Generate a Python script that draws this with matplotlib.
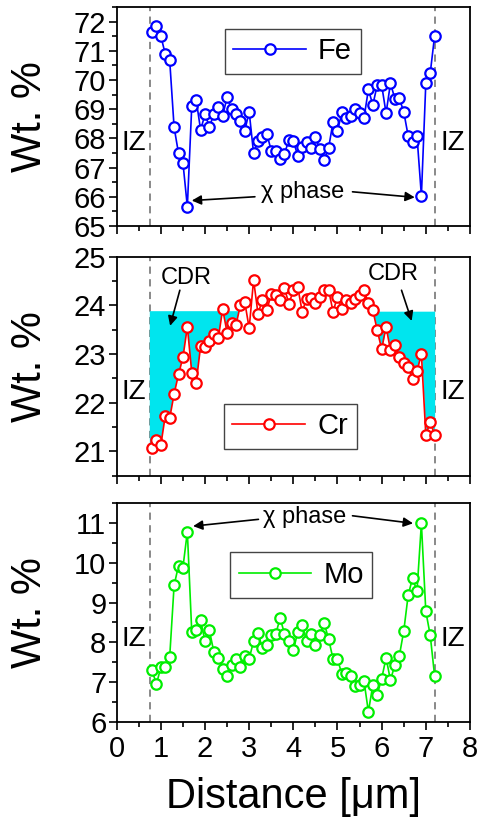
import numpy as np
import matplotlib
matplotlib.use("Agg")
import matplotlib.pyplot as plt
from matplotlib.ticker import MultipleLocator

plt.rcParams['font.family'] = ['Liberation Sans', 'DejaVu Sans']

# line scan data (Wt. %)
distance = [0.8, 0.9, 1.0, 1.1, 1.2, 1.3, 1.4, 1.5, 1.6, 1.7, 1.8, 1.9, 2.0,
            2.1, 2.2, 2.3, 2.4, 2.5, 2.6, 2.7, 2.8, 2.9, 3.0, 3.1, 3.2, 3.3,
            3.4, 3.5, 3.6, 3.7, 3.8, 3.9, 4.0, 4.1, 4.2, 4.3, 4.4, 4.5, 4.6,
            4.7, 4.8, 4.9, 5.0, 5.1, 5.2, 5.3, 5.4, 5.5, 5.6, 5.7, 5.8, 5.9,
            6.0, 6.1, 6.2, 6.3, 6.4, 6.5, 6.6, 6.7, 6.8, 6.9, 7.0, 7.1, 7.2]
fe = [71.65, 71.85, 71.50, 70.89, 70.68, 68.38, 67.49, 67.17, 65.66, 69.11,
      69.32, 68.29, 68.82, 68.40, 68.82, 69.06, 68.77, 69.41, 69.00, 68.82,
      68.61, 68.26, 68.91, 67.49, 67.92, 68.04, 68.15, 67.58, 67.58, 67.28,
      67.47, 67.95, 67.92, 67.40, 67.72, 67.87, 67.68, 68.04, 67.63, 67.26,
      67.68, 68.57, 68.26, 68.89, 68.69, 68.77, 69.00, 68.88, 68.69, 69.68,
      69.14, 69.83, 69.83, 68.86, 69.89, 69.35, 69.37, 68.91, 68.09, 67.89,
      68.09, 66.03, 69.89, 70.23, 71.52]
cr = [21.06, 21.23, 21.13, 21.73, 21.68, 22.18, 22.58, 22.93, 23.56, 22.62,
      22.41, 23.16, 23.14, 23.27, 23.42, 23.32, 23.92, 23.44, 23.63, 23.59,
      24.00, 24.07, 23.53, 24.52, 23.83, 24.11, 23.90, 24.23, 24.21, 24.11,
      24.35, 24.03, 24.31, 24.38, 23.87, 24.13, 24.16, 24.04, 24.18, 24.31,
      24.31, 23.87, 24.18, 23.92, 24.11, 24.05, 24.13, 24.21, 24.31, 24.05,
      23.90, 23.49, 23.10, 23.56, 23.08, 23.18, 22.94, 22.82, 22.74, 22.48,
      22.65, 23.00, 21.34, 21.60, 21.34]
mo = [7.30, 6.95, 7.38, 7.38, 7.63, 9.43, 9.93, 9.88, 10.78, 8.26,
      8.30, 8.55, 8.03, 8.30, 7.76, 7.61, 7.33, 7.16, 7.43, 7.59,
      7.38, 7.66, 7.59, 8.03, 8.23, 7.86, 7.94, 8.18, 8.20, 8.61,
      8.22, 8.03, 7.80, 8.26, 8.44, 8.03, 8.22, 7.93, 8.18, 8.48,
      8.08, 7.58, 7.58, 7.20, 7.24, 7.16, 6.91, 6.94, 7.03, 6.26,
      6.93, 6.69, 7.09, 7.61, 7.05, 7.44, 7.66, 8.28, 9.18, 9.62,
      9.28, 10.99, 8.78, 8.18, 7.15]

iz_left = 0.75
iz_right = 7.2
cdr_top = 23.88
cdr_left_end = 2.8
cdr_right_start = 5.8

d = np.array(distance)

fig = plt.figure(figsize=(4.8, 8.19), dpi=100)
left, width, height = 0.2431, 0.736, 0.2674
ax_fe = fig.add_axes([left, 0.7241, width, height])
ax_cr = fig.add_axes([left, 0.4192, width, height])
ax_mo = fig.add_axes([left, 0.1184, width, height])

panels = [(ax_fe, fe, 'blue', 'Fe', (65, 72.5)),
          (ax_cr, cr, 'red', 'Cr', (20.5, 25)),
          (ax_mo, mo, '#00ee00', 'Mo', (6, 11.5))]

for ax, vals, col, name, ylim in panels:
    ax.plot(d, vals, '-o', color=col, lw=1.2, ms=7.5, mew=1.6,
            mfc='white', mec=col, label=name, zorder=4)
    ax.axvline(iz_left, color='gray', ls='--', lw=1.3, dashes=(4, 3), zorder=1)
    ax.axvline(iz_right, color='gray', ls='--', lw=1.3, dashes=(4, 3), zorder=1)
    ax.set_xlim(0, 8)
    ax.set_ylim(*ylim)
    ax.xaxis.set_major_locator(MultipleLocator(1))
    ax.xaxis.set_minor_locator(MultipleLocator(0.5))
    ax.yaxis.set_major_locator(MultipleLocator(1))
    ax.yaxis.set_minor_locator(MultipleLocator(0.5))
    ax.tick_params(which='both', direction='out', top=False, right=False,
                   labelsize=21, width=1.2)
    ax.tick_params(which='major', length=6)
    ax.tick_params(which='minor', length=3.5)
    ax.tick_params(axis='y', pad=1.5)
    for s in ax.spines.values():
        s.set_linewidth(1.3)
    ax.set_ylabel('Wt. %', fontsize=30)
    ax.yaxis.set_label_coords(-0.188, 0.5)
    ymid = ylim[0] + 0.38 * (ylim[1] - ylim[0])
    ax.text(0.38, ymid, 'IZ', fontsize=20, ha='center', va='center')
    ax.text(7.62, ymid, 'IZ', fontsize=20, ha='center', va='center')

ax_fe.tick_params(labelbottom=False)
ax_cr.tick_params(labelbottom=False)
ax_mo.set_xlabel('Distance [\u03bcm]', fontsize=30, labelpad=10)

# cyan chromium depleted regions
c = np.array(cr)
m = d <= cdr_left_end
xl = np.r_[iz_left, d[m]]
yl = np.r_[c[0], c[m]]
ax_cr.fill_between(xl, yl, cdr_top, where=yl < cdr_top, interpolate=True,
                   color='#00e5ee', lw=0, zorder=2)
m = d >= cdr_right_start
ax_cr.fill_between(d[m], c[m], cdr_top, where=c[m] < cdr_top, interpolate=True,
                   color='#00e5ee', lw=0, zorder=2)

arr = dict(arrowstyle='-|>', color='black', lw=1.2, mutation_scale=14,
           shrinkA=0, shrinkB=0)

ax_cr.text(1.58, 24.57, 'CDR', fontsize=17, ha='center', va='center')
ax_cr.annotate('', xy=(1.21, 23.58), xytext=(1.43, 24.31), arrowprops=arr)
ax_cr.text(6.26, 24.64, 'CDR', fontsize=17, ha='center', va='center')
ax_cr.annotate('', xy=(6.68, 23.68), xytext=(6.45, 24.31), arrowprops=arr)

ax_fe.text(4.22, 66.15, '\u03c7 phase', fontsize=17, ha='center', va='center')
ax_fe.annotate('', xy=(1.70, 65.87), xytext=(3.13, 66.0), arrowprops=arr)
ax_fe.annotate('', xy=(6.75, 65.98), xytext=(5.34, 66.17), arrowprops=arr)

ax_mo.text(4.26, 11.15, '\u03c7 phase', fontsize=17, ha='center', va='center')
ax_mo.annotate('', xy=(1.73, 10.92), xytext=(3.21, 11.09), arrowprops=arr)
ax_mo.annotate('', xy=(6.71, 10.99), xytext=(5.34, 11.18), arrowprops=arr)

leg_pos = {ax_fe: (0.498, 0.797), ax_cr: (0.491, 0.225), ax_mo: (0.522, 0.671)}
for ax, pos in leg_pos.items():
    lg = ax.legend(loc='center', bbox_to_anchor=pos, fontsize=21, numpoints=1,
                   handlelength=2.5, handletextpad=0.4, borderpad=0.3,
                   fancybox=False, framealpha=1)
    lg.get_frame().set_edgecolor('#444444')
    lg.get_frame().set_linewidth(1.0)

fig.savefig('out.png', dpi=100)
